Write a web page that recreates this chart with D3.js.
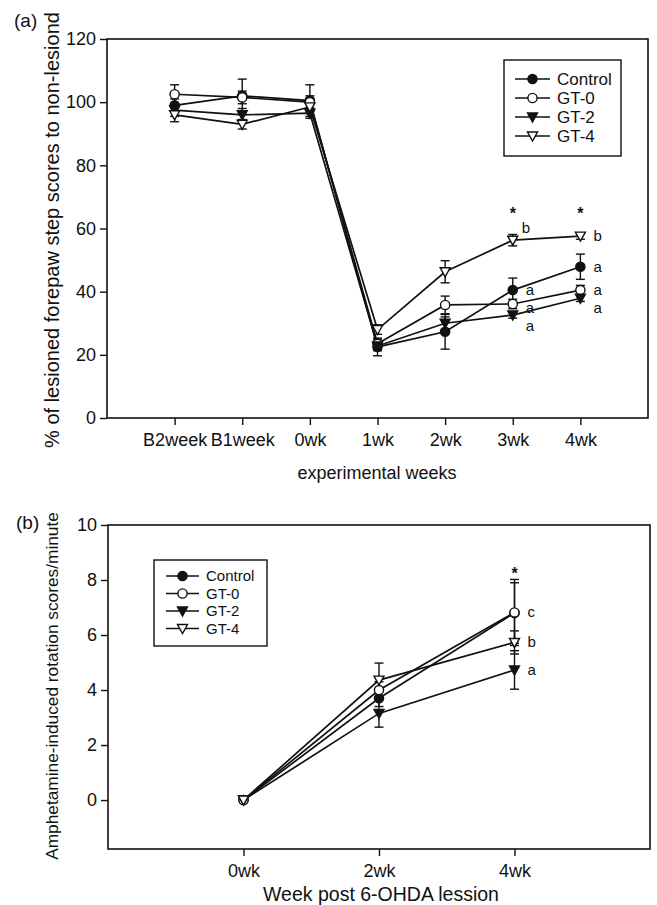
<!DOCTYPE html>
<html>
<head>
<meta charset="utf-8">
<script src="https://cdn.jsdelivr.net/npm/d3@7"></script>
<style>
  body { margin: 0; background: #fff; }
  svg text { font-family: "Liberation Sans", Arial, sans-serif; fill: #111; }
</style>
</head>
<body>
<svg id="chart" width="657" height="905"></svg>
<script>
// ---- panel (a) data: forepaw step test ----
const weeksA = ['B2week', 'B1week', '0wk', '1wk', '2wk', '3wk', '4wk'];
const groups = ['Control', 'GT-0', 'GT-2', 'GT-4'];
const controlA = [99, 102, 100.5, 22.5, 27.3, 40.5, 47.9];
const gt0A     = [102.5, 101.5, 100, 23.5, 35.8, 36.1, 40.5];
const gt2A     = [97.5, 96, 96.5, 22.8, 30, 32.6, 37.9];
const gt4A     = [96, 93, 98.5, 28, 46.3, 56.3, 57.6];
const controlErrA = [2, 5.3, 5, 2.8, 5.5, 3.8, 4];
const gt0ErrA     = [3, 2, 2, 1.5, 2.8, 1.5, 1.5];
const gt2ErrA     = [2, 2, 1.6, 1.5, 2, 1, 1];
const gt4ErrA     = [2.2, 1.5, 1.5, 1.5, 3.5, 1.8, 1];
const yTicksA = [0, 20, 40, 60, 80, 100, 120];
const lettersA = [
  { week: '3wk', group: 'GT-4', letter: 'b', raised: true },
  { week: '3wk', group: 'Control', letter: 'a' },
  { week: '3wk', group: 'GT-0', letter: 'a' },
  { week: '3wk', group: 'GT-2', letter: 'a' },
  { week: '4wk', group: 'GT-4', letter: 'b' },
  { week: '4wk', group: 'Control', letter: 'a' },
  { week: '4wk', group: 'GT-0', letter: 'a' },
  { week: '4wk', group: 'GT-2', letter: 'a' }
];
const starsA = [{ week: '3wk', value: 66 }, { week: '4wk', value: 66 }];

// ---- panel (b) data: amphetamine rotation ----
const weeksB = ['0wk', '2wk', '4wk'];
const controlB = [0, 3.7, 6.8];
const gt0B     = [0, 4.0, 6.82];
const gt2B     = [0, 3.15, 4.73];
const gt4B     = [0, 4.36, 5.73];
const controlErrB = [0, 0.3, 1.1];
const gt0ErrB     = [0, 0.3, 1.2];
const gt2ErrB     = [0, 0.5, 0.7];
const gt4ErrB     = [0, 0.62, 0.42];
const yTicksB = [0, 2, 4, 6, 8, 10];
const lettersB = [
  { week: '4wk', group: 'GT-0', letter: 'c' },
  { week: '4wk', group: 'GT-4', letter: 'b' },
  { week: '4wk', group: 'GT-2', letter: 'a' }
];
const starsB = [{ week: '4wk', value: 8.35 }];

const markerStyle = {
  'Control': { shape: 'circle', fill: '#111' },
  'GT-0': { shape: 'circle', fill: '#fff' },
  'GT-2': { shape: 'tri', fill: '#111' },
  'GT-4': { shape: 'tri', fill: '#fff' }
};

const svg = d3.select('#chart');

function drawMarker(g, group, x, y) {
  const st = markerStyle[group];
  if (st.shape === 'circle') {
    g.append('circle').attr('cx', x).attr('cy', y).attr('r', 4.6)
      .attr('fill', st.fill).attr('stroke', '#111').attr('stroke-width', 1.4);
  } else {
    g.append('path')
      .attr('d', `M${x - 5},${y - 4} L${x + 5},${y - 4} L${x},${y + 5} Z`)
      .attr('fill', st.fill).attr('stroke', '#111').attr('stroke-width', 1.4);
  }
}

function drawPanel(cfg) {
  const { box, weeks, series, errs, yDomain, yTicks } = cfg;
  const x = d3.scalePoint().domain(['_l', ...weeks, '_r'])
    .range([box.left, box.right]);
  const y = d3.scaleLinear().domain(yDomain).range([box.bottom, box.top]);
  const g = svg.append('g');

  // frame
  g.append('rect')
    .attr('x', box.left).attr('y', box.top)
    .attr('width', box.right - box.left).attr('height', box.bottom - box.top)
    .attr('fill', 'none').attr('stroke', '#111').attr('stroke-width', 1.6);

  // axes
  const yAxis = g.append('g').attr('transform', `translate(${box.left},0)`)
    .call(d3.axisLeft(y).tickValues(yTicks).tickSize(7).tickPadding(4));
  const xAxis = g.append('g').attr('transform', `translate(0,${box.bottom})`)
    .call(d3.axisBottom(x).tickValues(weeks).tickSize(7).tickPadding(8));
  [yAxis, xAxis].forEach(a => {
    a.select('.domain').remove();
    a.selectAll('line').attr('stroke', '#111').attr('stroke-width', 1.4);
    a.selectAll('text').style('font-size', '18px')
      .style('font-family', '"Liberation Sans", Arial, sans-serif').attr('fill', '#111');
  });

  // lines
  const line = d3.line().x((d, i) => x(weeks[i])).y(d => y(d));
  groups.forEach((grp, k) => {
    g.append('path').datum(series[k]).attr('d', line)
      .attr('fill', 'none').attr('stroke', '#111').attr('stroke-width', 1.7);
  });

  // error bars
  groups.forEach((grp, k) => {
    series[k].forEach((v, i) => {
      const e = errs[k][i];
      if (!e) return;
      const cx = x(weeks[i]);
      g.append('line').attr('x1', cx).attr('x2', cx)
        .attr('y1', y(v - e)).attr('y2', y(v + e))
        .attr('stroke', '#111').attr('stroke-width', 1.4);
      [v - e, v + e].forEach(t => {
        g.append('line').attr('x1', cx - 4.5).attr('x2', cx + 4.5)
          .attr('y1', y(t)).attr('y2', y(t))
          .attr('stroke', '#111').attr('stroke-width', 1.4);
      });
    });
  });

  // markers
  groups.forEach((grp, k) => {
    series[k].forEach((v, i) => drawMarker(g, grp, x(weeks[i]), y(v)));
  });

  // significance letters, pushed apart when they would collide
  const placed = cfg.letters.map(l => {
    const k = groups.indexOf(l.group);
    const i = weeks.indexOf(l.week);
    return { ...l, px: x(l.week) + (l.raised ? 9 : 13), py: y(series[k][i]) + (l.raised ? -12 : 0) };
  });
  d3.groups(placed, d => d.week).forEach(([wk, arr]) => {
    arr.sort((a, b) => a.py - b.py);
    for (let j = 1; j < arr.length; j++) {
      if (arr[j].py - arr[j - 1].py < 18) arr[j].py = arr[j - 1].py + 18;
    }
  });
  placed.forEach(l => {
    g.append('text').attr('x', l.px).attr('y', l.py + 5)
      .style('font-size', '15px').text(l.letter);
  });
  cfg.stars.forEach(s => {
    g.append('text').attr('x', x(s.week)).attr('y', y(s.value) + 9)
      .attr('text-anchor', 'middle').style('font-size', '16px')
      .style('font-weight', 'bold').text('*');
  });

  // legend
  const lg = cfg.legend;
  g.append('rect').attr('x', lg.x).attr('y', lg.y).attr('width', lg.w).attr('height', lg.h)
    .attr('fill', '#fff').attr('stroke', '#111').attr('stroke-width', 1.4);
  groups.forEach((grp, k) => {
    const ry = lg.y + lg.first + k * lg.step;
    g.append('line').attr('x1', lg.x + lg.lineX0).attr('x2', lg.x + lg.lineX1)
      .attr('y1', ry).attr('y2', ry).attr('stroke', '#111').attr('stroke-width', 1.7);
    drawMarker(g, grp, lg.x + (lg.lineX0 + lg.lineX1) / 2, ry);
    g.append('text').attr('x', lg.x + lg.textX).attr('y', ry + lg.font * 0.35)
      .style('font-size', lg.font + 'px').text(grp);
  });

  // titles
  g.append('text').attr('x', cfg.panelLabel.x).attr('y', cfg.panelLabel.y)
    .style('font-size', '19px').text(cfg.panelLabel.text);
  g.append('text')
    .attr('transform', `translate(${cfg.yTitle.x},${cfg.yTitle.y}) rotate(-90)`)
    .attr('text-anchor', 'middle').style('font-size', cfg.yTitle.size + 'px')
    .text(cfg.yTitle.text);
  g.append('text').attr('x', cfg.xTitle.x).attr('y', cfg.xTitle.y)
    .attr('text-anchor', 'middle').style('font-size', cfg.xTitle.size + 'px').text(cfg.xTitle.text);
}

drawPanel({
  box: { left: 107, right: 648, top: 39, bottom: 418 },
  weeks: weeksA,
  series: [controlA, gt0A, gt2A, gt4A],
  errs: [controlErrA, gt0ErrA, gt2ErrA, gt4ErrA],
  yDomain: [0, 120],
  yTicks: yTicksA,
  letters: lettersA,
  stars: starsA,
  legend: { x: 504, y: 60, w: 117, h: 96, first: 19, step: 19, lineX0: 11, lineX1: 46, textX: 53, font: 17 },
  panelLabel: { x: 14, y: 27, text: '(a)' },
  yTitle: { x: 59, y: 230, size: 20, text: '% of lesioned forepaw step scores to non-lesiond' },
  xTitle: { x: 377, y: 479, size: 18, text: 'experimental weeks' }
});

drawPanel({
  box: { left: 108, right: 650, top: 525, bottom: 849 },
  weeks: weeksB,
  series: [controlB, gt0B, gt2B, gt4B],
  errs: [controlErrB, gt0ErrB, gt2ErrB, gt4ErrB],
  yDomain: [-1.78, 10],
  yTicks: yTicksB,
  letters: lettersB,
  stars: starsB,
  legend: { x: 154, y: 560, w: 113, h: 86, first: 16, step: 17.5, lineX0: 12, lineX1: 45, textX: 52, font: 15 },
  panelLabel: { x: 16, y: 529, text: '(b)' },
  yTitle: { x: 58, y: 686, size: 17.3, text: 'Amphetamine-induced rotation scores/minute' },
  xTitle: { x: 381, y: 901, size: 19.5, text: 'Week post 6-OHDA lession' }
});
</script>
</body>
</html>
